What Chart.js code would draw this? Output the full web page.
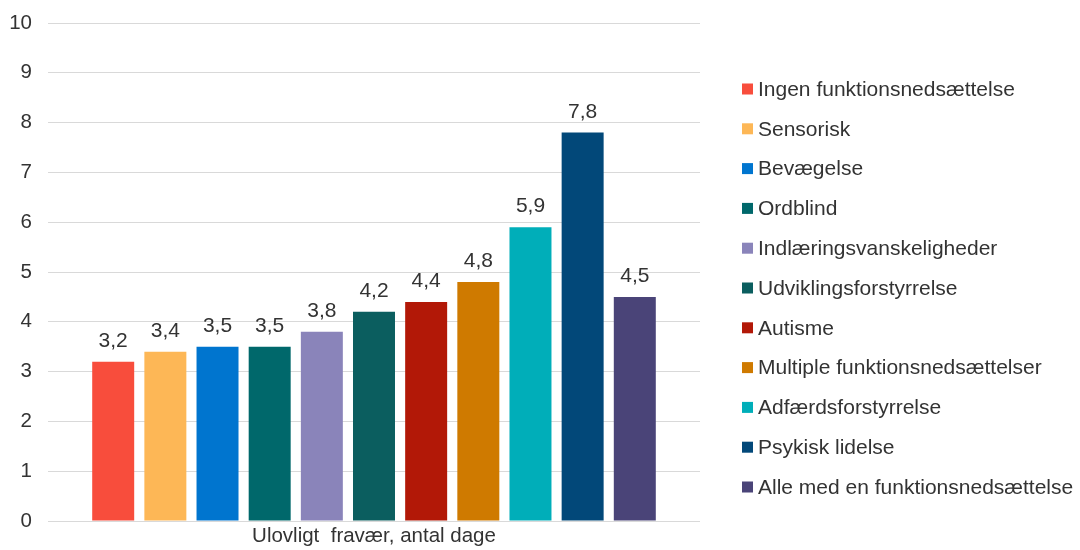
<!DOCTYPE html>
<html lang="da">
<head>
<meta charset="utf-8">
<title>Ulovligt fravær</title>
<script src="https://cdn.jsdelivr.net/npm/chart.js@4.4.1/dist/chart.umd.min.js"></script>
<style>
  html, body { margin: 0; padding: 0; background: #fff; }
  #wrap { width: 1080px; height: 550px; position: relative; }
</style>
</head>
<body>
<div id="wrap"><canvas id="chart" width="1080" height="550"></canvas></div>
<script>
const categories = ["Ulovligt  fravær, antal dage"];
const groups = [
  "Ingen funktionsnedsættelse",
  "Sensorisk",
  "Bevægelse",
  "Ordblind",
  "Indlæringsvanskeligheder",
  "Udviklingsforstyrrelse",
  "Autisme",
  "Multiple funktionsnedsættelser",
  "Adfærdsforstyrrelse",
  "Psykisk lidelse",
  "Alle med en funktionsnedsættelse"
];
const values = [3.2, 3.4, 3.5, 3.5, 3.8, 4.2, 4.4, 4.8, 5.9, 7.8, 4.5];
const colors = [
  "#f84d3c", "#fdb756", "#0075cf", "#00686b", "#8a84ba", "#0b5e5f",
  "#b21807", "#cf7a00", "#00aeb9", "#024879", "#4a4478"
];
const yTicks = [0, 1, 2, 3, 4, 5, 6, 7, 8, 9, 10];

const FONT = "'Liberation Sans', Arial, sans-serif";
const TEXT = "#333333";

// value labels above each bar, Danish decimal comma
const valueLabels = {
  id: "valueLabels",
  afterDatasetsDraw(chart) {
    const ctx = chart.ctx;
    ctx.save();
    ctx.font = "21px " + FONT;
    ctx.fillStyle = TEXT;
    ctx.textAlign = "center";
    ctx.textBaseline = "alphabetic";
    chart.data.datasets.forEach((ds, i) => {
      const meta = chart.getDatasetMeta(i);
      meta.data.forEach((bar, j) => {
        const txt = ds.data[j].toFixed(1).replace(".", ",");
        ctx.fillText(txt, bar.x, bar.y - 15);
      });
    });
    ctx.restore();
  }
};

// vertical legend to the right of the plot
const sideLegend = {
  id: "sideLegend",
  afterDraw(chart) {
    const ctx = chart.ctx;
    const x0 = chart.chartArea.right + 42;
    const y0 = 89;
    const step = 39.8;
    ctx.save();
    ctx.font = "21px " + FONT;
    ctx.textBaseline = "middle";
    ctx.textAlign = "left";
    chart.data.datasets.forEach((ds, i) => {
      const y = y0 + i * step;
      ctx.fillStyle = ds.backgroundColor;
      ctx.fillRect(x0, y - 5.5, 11, 11);
      ctx.fillStyle = TEXT;
      ctx.fillText(ds.label, x0 + 16, y + 1);
    });
    ctx.restore();
  }
};

const datasets = groups.map((g, i) => ({
  label: g,
  data: [values[i]],
  backgroundColor: colors[i],
  categoryPercentage: 0.88,
  barPercentage: 0.805
}));

new Chart(document.getElementById("chart"), {
  type: "bar",
  data: { labels: categories, datasets: datasets },
  options: {
    responsive: false,
    animation: false,
    layout: { padding: { left: 10, right: 380, top: 23, bottom: 1 } },
    plugins: {
      legend: { display: false },
      tooltip: { enabled: false }
    },
    scales: {
      x: {
        grid: { display: false, drawTicks: false },
        border: { display: false },
        ticks: { color: TEXT, font: { family: FONT, size: 20.5 }, padding: 3 },
        afterFit(axis) {
          axis.height = 28;
        }
      },
      y: {
        min: 0,
        max: 10,
        afterBuildTicks(axis) {
          axis.ticks = yTicks.map(v => ({ value: v }));
        },
        grid: { color: "#d9d9d9", drawTicks: false, lineWidth: 1 },
        border: { display: false },
        ticks: { color: TEXT, font: { family: FONT, size: 20.5 }, padding: 16 },
        afterFit(axis) {
          axis.width = 38;
          axis.paddingTop = 0;
          axis.paddingBottom = 0;
        }
      }
    }
  },
  plugins: [valueLabels, sideLegend]
});
</script>
</body>
</html>
